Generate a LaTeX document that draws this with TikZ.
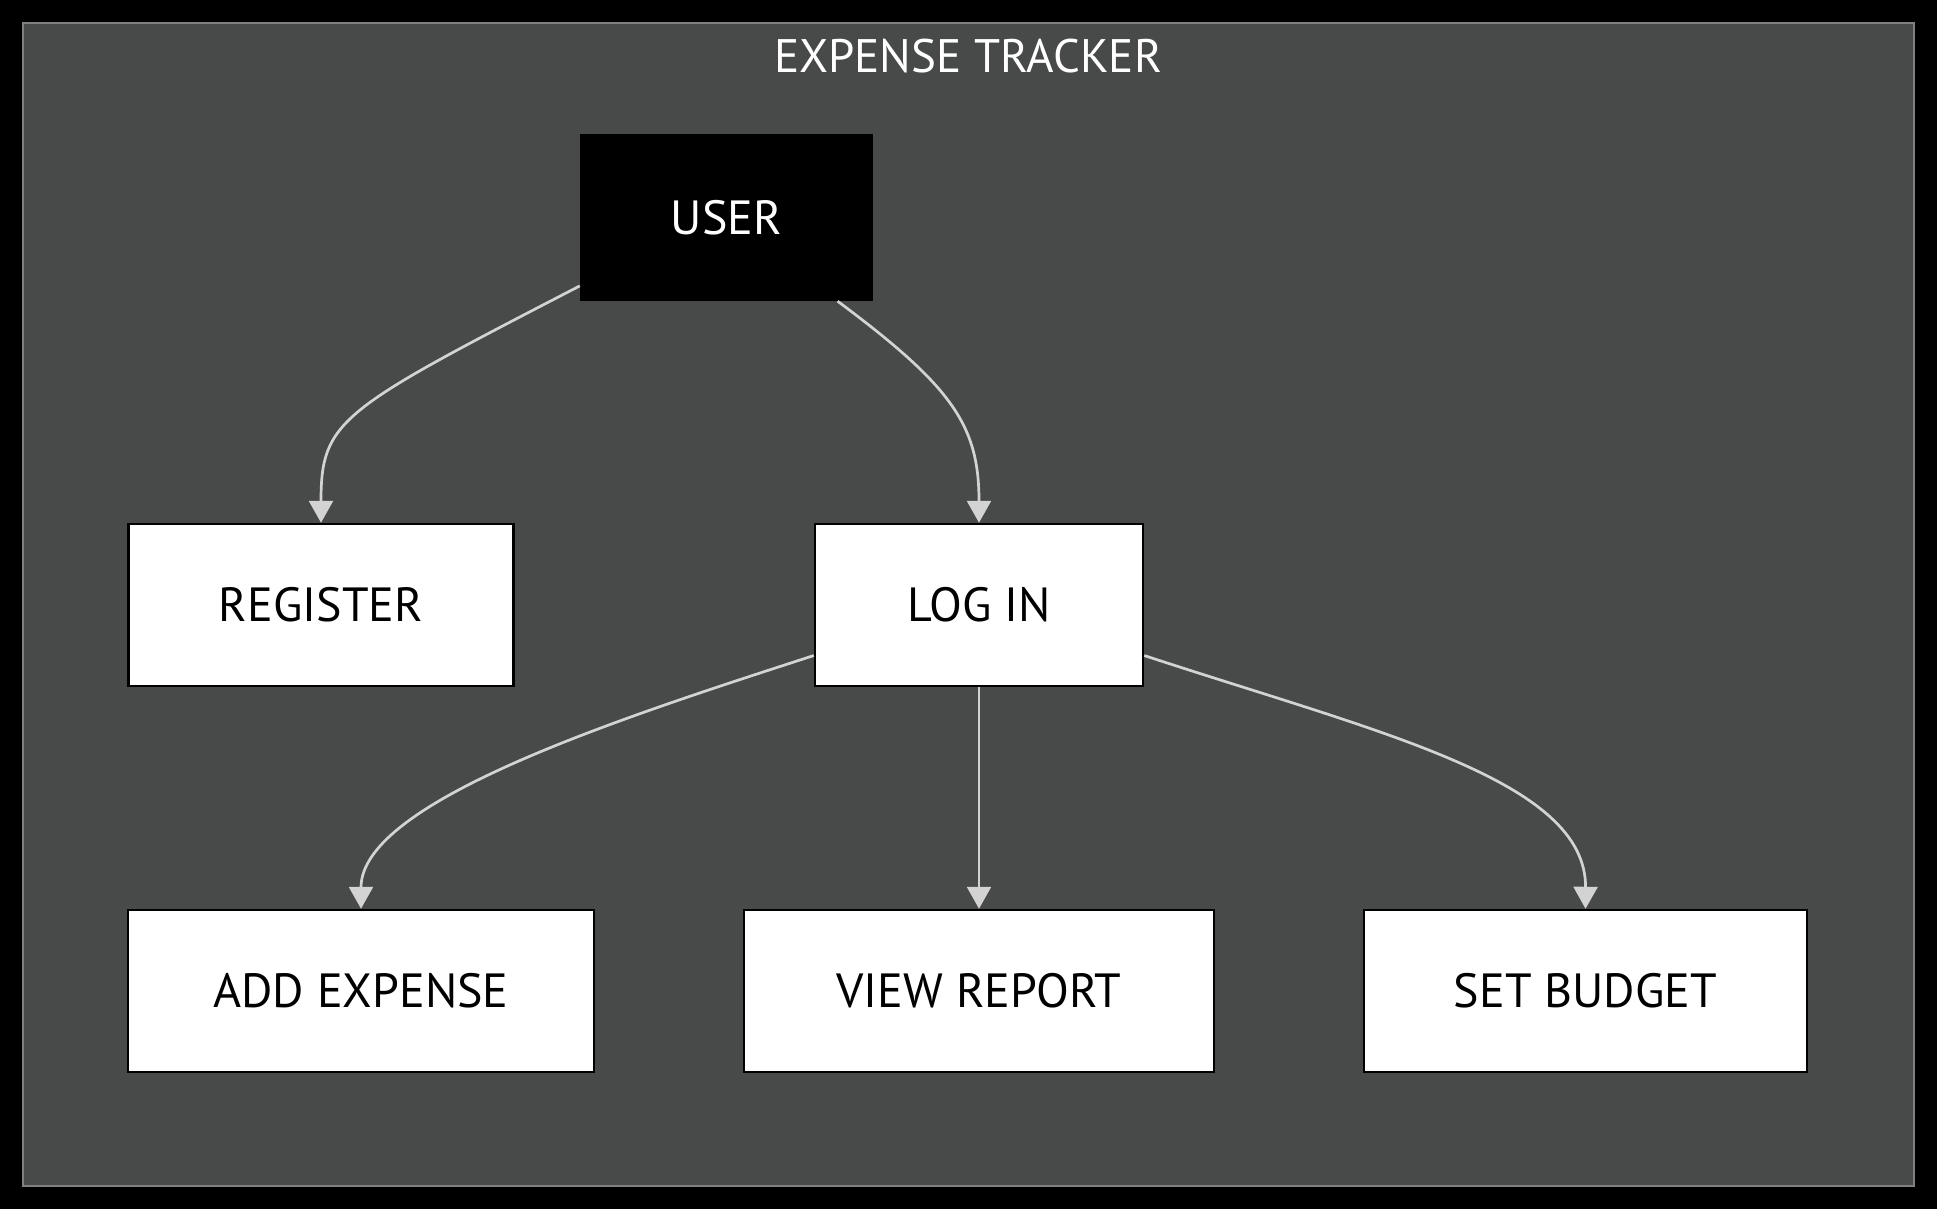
\documentclass[tikz,border=0pt]{standalone}
\usepackage{fontspec}
\setmainfont{PT Sans}
\usetikzlibrary{arrows.meta}
\definecolor{framegray}{HTML}{484A49}
\definecolor{frameline}{HTML}{808080}
\definecolor{edgegray}{HTML}{D3D3D3}
\begin{document}
\begin{tikzpicture}[
    x=1pt,y=-1pt,
    box/.style={draw=black,line width=2.5pt,fill=white,text=black,
      minimum height=162pt,inner sep=0pt,
      font=\fontsize{48}{52}\selectfont},
    actor/.style={box,fill=black,draw=black,text=white,minimum height=165pt},
    flow/.style={draw=edgegray,line width=2.7pt,
      -{Triangle[width=24pt,length=22pt,fill=edgegray]}}
    ]
    \fill[black] (0,0) rectangle (1937,1209);
    \draw[fill=framegray,draw=frameline,line width=2.5pt] (23,23) rectangle (1914,1186);
    \node[anchor=base,text=white,font=\fontsize{47}{50}\selectfont] (title) at (968,72.7) {EXPENSE TRACKER};
    \node[actor,minimum width=291pt] (user) at (726.5,217.5) {USER};
    \node[box,minimum width=385pt] (register) at (321,605) {REGISTER};
    \node[box,minimum width=328pt] (login) at (979,605) {LOG IN};
    \node[box,minimum width=466pt] (addexp) at (361,991) {ADD EXPENSE};
    \node[box,minimum width=470pt] (report) at (979,991) {VIEW REPORT};
    \node[box,minimum width=443pt] (budget) at (1585.5,991) {SET BUDGET};
    \draw[flow] (user.205.6) .. controls (340,410) and (321,420) .. (register.north);
    \draw[flow] (user.-37.8) .. controls (953,387) and (979,426) .. (login.north);
    \draw[flow] (login.197) .. controls (631,715) and (361,800) .. (addexp.north);
    \draw[flow] (login.south) -- (report.north);
    \draw[flow] (login.-17.5) .. controls (1380,733) and (1586,780) .. (budget.north);
  \end{tikzpicture}
\end{document}
